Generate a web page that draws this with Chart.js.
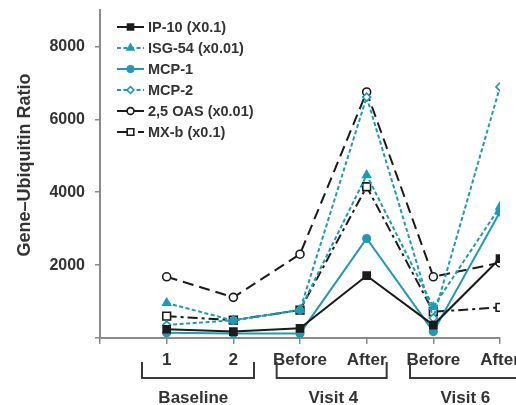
<!DOCTYPE html>
<html>
<head>
<meta charset="utf-8">
<script src="https://cdn.jsdelivr.net/npm/chart.js@4/dist/chart.umd.min.js"></script>
<style>
html,body{margin:0;padding:0;background:#fff;overflow:hidden;}
#wrap{position:relative;width:516px;height:405px;}
</style>
</head>
<body>
<div id="wrap"><canvas id="c" width="516" height="405"></canvas></div>
<script>
// ---- data ----
const categories = ['1', '2', 'Before', 'After', 'Before', 'After'];
const groupLabels = ['Baseline', 'Visit 4', 'Visit 6'];
const yTicks = [0, 2000, 4000, 6000, 8000];
const ip10  = [240, 175, 265, 1710, 355, 2180];
const isg54 = [960, 480, 770, 4470, 850, 3600];
const mcp1  = [145, 125, 125, 2730, 175, 3460];
const mcp2  = [355, 490, 770, 6610, 550, 6890];
const oas   = [1680, 1115, 2300, 6750, 1680, 2065];
const mxb   = [600, 490, 765, 4150, 720, 840];
const seriesNames = ['IP-10 (X0.1)', 'ISG-54 (x0.01)', 'MCP-1', 'MCP-2', '2,5 OAS (x0.01)', 'MX-b (x0.1)'];

const BLACK = '#1b1b1b';
const TEAL = '#1f9ab2';
const TEXT = '#333333';
const AXIS = '#8a8a8a';
const FONT = '"Liberation Sans", Arial, sans-serif';

const toXY = arr => arr.map((v, i) => ({x: i + 1, y: v}));

function ds(label, data, color, dash, style, radius, filled) {
  return {
    label, data: toXY(data), borderColor: color, borderWidth: 2, borderDash: dash,
    pointStyle: style, pointRadius: radius, pointHoverRadius: radius,
    pointBackgroundColor: filled ? color : '#ffffff', pointBorderColor: color,
    pointBorderWidth: 1.6, tension: 0, fill: false
  };
}

const datasets = [
  ds(seriesNames[0], ip10,  BLACK, [],          'rect',    5,   true),
  ds(seriesNames[1], isg54, TEAL,  [4, 2.5],    'triangle',4.5, true),
  ds(seriesNames[2], mcp1,  TEAL,  [],          'circle',  3.8, true),
  ds(seriesNames[3], mcp2,  TEAL,  [4, 2.5],    'rectRot', 4,   false),
  ds(seriesNames[4], oas,   BLACK, [11, 6],     'circle',  4,   false),
  ds(seriesNames[5], mxb,   BLACK, [10, 4, 3, 4],'rect',   5.5, false)
];

function drawMarker(ctx, style, x, y, r, fill, stroke) {
  ctx.save();
  ctx.setLineDash([]);
  ctx.fillStyle = fill; ctx.strokeStyle = stroke; ctx.lineWidth = 1.6;
  ctx.beginPath();
  if (style === 'rect') {
    const s = r * Math.SQRT1_2;
    ctx.rect(x - s, y - s, 2 * s, 2 * s);
  } else if (style === 'rectRot') {
    const s = r;
    ctx.moveTo(x, y - s); ctx.lineTo(x + s, y); ctx.lineTo(x, y + s); ctx.lineTo(x - s, y); ctx.closePath();
  } else if (style === 'triangle') {
    ctx.moveTo(x, y - r); ctx.lineTo(x + r * 0.866, y + r * 0.5); ctx.lineTo(x - r * 0.866, y + r * 0.5); ctx.closePath();
  } else {
    ctx.arc(x, y, r, 0, Math.PI * 2);
  }
  ctx.fill(); ctx.stroke();
  ctx.restore();
}

const decor = {
  id: 'decor',
  afterDraw(chart) {
    const ctx = chart.ctx;
    const xs = chart.scales.x;
    const area = chart.chartArea;
    // legend
    ctx.save();
    ctx.font = 'bold 14.5px ' + FONT;
    ctx.textBaseline = 'middle';
    chart.data.datasets.forEach((d, i) => {
      const y = 27 + i * 21;
      ctx.save();
      ctx.strokeStyle = d.borderColor; ctx.lineWidth = 2;
      ctx.setLineDash(d.borderDash || []);
      ctx.beginPath(); ctx.moveTo(117, y); ctx.lineTo(144, y); ctx.stroke();
      ctx.restore();
      drawMarker(ctx, d.pointStyle, 130.5, y, d.pointRadius * 0.85, d.pointBackgroundColor, d.pointBorderColor);
      ctx.fillStyle = TEXT;
      ctx.fillText(d.label, 148, y + 0.5);
    });
    ctx.restore();

    // y-axis title
    ctx.save();
    ctx.font = 'bold 18px ' + FONT;
    ctx.fillStyle = TEXT;
    ctx.textAlign = 'center'; ctx.textBaseline = 'middle';
    ctx.translate(25, 165);
    ctx.rotate(-Math.PI / 2);
    ctx.fillText('Gene\u2013Ubiquitin Ratio', 0, 0);
    ctx.restore();

    // group brackets
    const spans = [[0.63, 2.31, 1.4], [2.65, 4.3, 3.5], [4.65, 6.3, 5.48]];
    ctx.save();
    ctx.strokeStyle = '#3a3a3a'; ctx.lineWidth = 2;
    ctx.font = 'bold 17px ' + FONT;
    ctx.fillStyle = TEXT; ctx.textAlign = 'center'; ctx.textBaseline = 'middle';
    const top = area.bottom + 24, bot = area.bottom + 40;
    spans.forEach((s, i) => {
      const a = xs.getPixelForValue(s[0]), b = xs.getPixelForValue(s[1]);
      ctx.beginPath();
      ctx.moveTo(a, top); ctx.lineTo(a, bot); ctx.lineTo(b, bot); ctx.lineTo(b, top);
      ctx.stroke();
      ctx.fillText(groupLabels[i], xs.getPixelForValue(s[2]), area.bottom + 60);
    });
    ctx.restore();
  }
};

new Chart(document.getElementById('c'), {
  type: 'line',
  data: {datasets},
  options: {
    responsive: false,
    animation: false,
    devicePixelRatio: 1,
    layout: {padding: {top: 10, right: 16, left: 0, bottom: 0}},
    plugins: {legend: {display: false}, tooltip: {enabled: false}},
    scales: {
      x: {
        type: 'linear', min: 0, max: 6,
        afterBuildTicks: s => { s.ticks = [0, 1, 2, 3, 4, 5, 6].map(v => ({value: v})); },
        afterFit: s => { s.height = 67; s.paddingLeft = 0; s.paddingRight = 0; },
        ticks: {
          autoSkip: false, maxRotation: 0, minRotation: 0, padding: 6,
          color: TEXT, font: {family: FONT, size: 17, weight: 'bold'},
          callback: v => (v >= 1 && v <= categories.length) ? categories[v - 1] : ''
        },
        grid: {drawOnChartArea: false, drawTicks: true, tickLength: 6, color: AXIS, lineWidth: 1.5},
        border: {display: true, color: AXIS, width: 2}
      },
      y: {
        min: 0, max: 9000,
        afterBuildTicks: s => { s.ticks = yTicks.map(v => ({value: v})); },
        afterFit: s => { s.width = 100; s.paddingTop = 0; s.paddingBottom = 0; },
        ticks: {
          padding: 10, color: TEXT, font: {family: FONT, size: 16, weight: 'bold'},
          callback: v => v === 0 ? '' : String(v)
        },
        grid: {drawOnChartArea: false, drawTicks: true, tickLength: 5, color: AXIS, lineWidth: 1.5},
        border: {display: true, color: AXIS, width: 2}
      }
    }
  },
  plugins: [decor]
});
</script>
</body>
</html>
